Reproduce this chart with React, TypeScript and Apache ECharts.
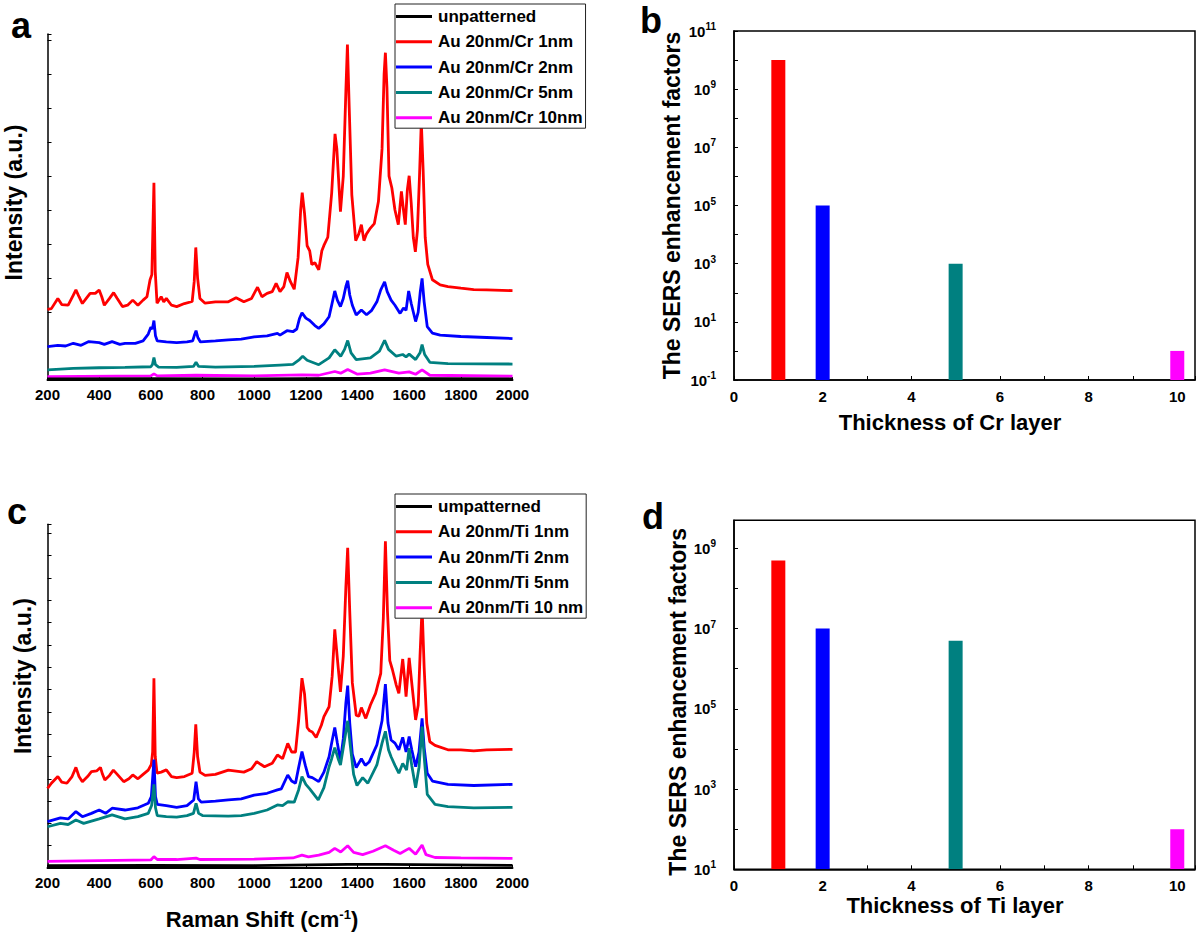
import React, { useEffect, useRef } from "react";
import * as echarts from "echarts";

const FONT = "'Liberation Sans', Arial, Helvetica, sans-serif";

// ---------- Panel a (Cr) spectra: [Raman shift cm-1, intensity a.u.] ----------
const crNames = ["unpatterned", "Au 20nm/Cr 1nm", "Au 20nm/Cr 2nm", "Au 20nm/Cr 5nm", "Au 20nm/Cr 10nm"];
const lineColors = ["#000000", "#ff0000", "#0000ff", "#008080", "#ff00ff"];

const aBlack = [[200,0.03],[600,0.04],[1000,0.03],[1360,0.05],[1500,0.05],[2000,0.03]];
const aRed = [[200,2.08],[215,2.1],[240,2.40],[255,2.22],[280,2.2],[300,2.5],[310,2.65],[322,2.45],[335,2.25],[350,2.4],[365,2.55],[385,2.55],[400,2.65],[410,2.45],[420,2.2],[440,2.4],[456,2.57],[470,2.4],[490,2.16],[510,2.2],[530,2.35],[550,2.2],[570,2.35],[585,2.45],[597,2.95],[604,3.1],[612,5.80],[617,3.2],[624,2.26],[640,2.45],[650,2.3],[660,2.4],[680,2.2],[700,2.16],[730,2.25],[760,2.31],[768,2.9],[774,3.90],[781,3.0],[790,2.4],[810,2.26],[850,2.3],[900,2.3],[930,2.42],[960,2.3],[990,2.4],[1013,2.73],[1030,2.45],[1050,2.55],[1070,2.6],[1085,2.84],[1100,2.6],[1115,2.75],[1127,3.16],[1140,2.9],[1155,2.67],[1170,3.6],[1180,5.0],[1186,5.51],[1195,4.9],[1205,3.95],[1215,3.8],[1223,3.4],[1235,3.45],[1250,3.24],[1262,3.8],[1270,3.96],[1285,4.2],[1300,5.5],[1313,7.24],[1320,6.8],[1334,4.95],[1345,6.0],[1355,8.5],[1361,9.87],[1368,8.0],[1378,5.45],[1393,4.1],[1405,4.3],[1415,4.57],[1425,4.1],[1435,4.3],[1450,4.47],[1465,4.6],[1481,5.25],[1495,6.8],[1503,9.0],[1508,9.63],[1514,8.6],[1522,6.0],[1533,5.65],[1545,5.0],[1558,4.57],[1570,5.55],[1578,5.0],[1585,4.57],[1593,5.6],[1600,6.01],[1608,5.2],[1616,4.2],[1624,3.77],[1632,4.4],[1640,6.0],[1647,7.60],[1654,6.2],[1662,4.2],[1672,3.4],[1690,2.95],[1720,2.8],[1750,2.75],[1800,2.7],[1850,2.66],[1900,2.65],[2000,2.63]];
const aBlue = [[200,0.98],[240,1.02],[270,1.0],[300,1.08],[330,1.02],[360,1.13],[400,1.1],[420,1.05],[450,1.13],[480,1.05],[500,1.08],[540,1.08],[570,1.15],[590,1.35],[600,1.55],[606,1.5],[612,1.75],[618,1.3],[625,1.15],[660,1.12],[700,1.1],[740,1.12],[762,1.15],[768,1.3],[775,1.45],[782,1.25],[792,1.12],[850,1.15],[900,1.18],[950,1.2],[1000,1.27],[1050,1.3],[1090,1.37],[1100,1.32],[1127,1.45],[1150,1.42],[1165,1.5],[1175,1.8],[1185,1.98],[1200,1.82],[1215,1.75],[1235,1.6],[1250,1.52],[1270,1.65],[1290,1.86],[1300,2.2],[1312,2.62],[1322,2.35],[1334,2.16],[1345,2.4],[1355,2.75],[1362,2.92],[1370,2.5],[1380,2.2],[1395,1.91],[1415,2.06],[1435,1.92],[1455,2.05],[1475,2.3],[1490,2.65],[1505,2.89],[1515,2.6],[1530,2.35],[1545,2.2],[1565,1.96],[1578,2.12],[1588,2.05],[1598,2.62],[1608,2.25],[1625,1.72],[1635,2.0],[1643,2.6],[1650,2.99],[1658,2.3],[1670,1.57],[1690,1.38],[1720,1.32],[1800,1.28],[1900,1.25],[2000,1.22]];
const aTeal = [[200,0.30],[300,0.34],[400,0.36],[500,0.37],[600,0.39],[606,0.45],[612,0.66],[618,0.45],[630,0.38],[700,0.37],[765,0.4],[775,0.52],[785,0.4],[850,0.38],[1000,0.4],[1100,0.44],[1150,0.46],[1175,0.6],[1188,0.70],[1205,0.58],[1250,0.45],[1290,0.65],[1312,0.89],[1335,0.7],[1350,0.9],[1362,1.16],[1375,0.8],[1395,0.6],[1450,0.65],[1485,0.85],[1505,1.17],[1520,0.9],[1550,0.7],[1575,0.75],[1588,0.68],[1600,0.76],[1625,0.6],[1642,0.8],[1650,1.04],[1660,0.75],[1680,0.52],[1750,0.48],[2000,0.47]];
const aMagenta = [[200,0.10],[600,0.12],[612,0.18],[625,0.12],[775,0.14],[1000,0.12],[1185,0.15],[1250,0.14],[1312,0.25],[1335,0.2],[1362,0.31],[1400,0.17],[1450,0.2],[1505,0.30],[1560,0.2],[1600,0.24],[1625,0.17],[1650,0.30],[1680,0.14],[2000,0.11]];

// ---------- Panel c (Ti) spectra ----------
const tiNames = ["umpatterned", "Au 20nm/Ti 1nm", "Au 20nm/Ti 2nm", "Au 20nm/Ti 5nm", "Au 20nm/Ti 10 nm"];

const cBlack = [[200,0.1],[600,0.12],[1000,0.11],[1362,0.16],[1508,0.16],[2000,0.12]];
const cRed = [[200,3.57],[215,3.8],[240,4.10],[255,3.85],[275,3.8],[295,4.1],[310,4.51],[322,4.1],[335,3.87],[355,4.1],[370,4.32],[390,4.35],[405,4.51],[413,4.2],[422,3.95],[440,4.15],[455,4.39],[470,4.2],[495,3.87],[515,4.0],[530,4.17],[550,4.0],[570,4.2],[590,4.39],[602,4.65],[607,5.2],[612,8.51],[617,5.0],[624,4.25],[640,4.3],[660,4.4],[680,4.1],[700,4.05],[730,4.1],[760,4.25],[768,5.2],[774,6.44],[781,5.0],[790,4.3],[810,4.15],[850,4.2],[900,4.39],[960,4.3],[990,4.45],[1010,4.77],[1025,4.65],[1040,4.54],[1070,4.7],[1090,5.07],[1110,4.9],[1130,5.59],[1145,5.2],[1160,5.2],[1172,6.6],[1185,8.51],[1195,7.8],[1205,6.3],[1215,6.15],[1225,6.1],[1240,5.85],[1260,6.4],[1270,6.79],[1290,7.23],[1302,8.6],[1312,10.70],[1322,9.4],[1334,7.9],[1345,9.5],[1355,12.6],[1362,14.36],[1370,11.5],[1380,8.3],[1395,6.85],[1405,6.8],[1415,7.19],[1425,6.9],[1432,6.71],[1450,7.31],[1470,7.83],[1490,8.73],[1500,11.2],[1508,14.65],[1516,11.5],[1525,9.3],[1535,8.9],[1550,8.2],[1560,7.83],[1575,9.37],[1583,8.4],[1588,7.68],[1600,9.42],[1610,8.3],[1625,6.64],[1635,7.3],[1642,9.5],[1650,11.7],[1658,9.0],[1668,6.5],[1680,5.66],[1700,5.5],[1750,5.3],[1800,5.3],[1850,5.25],[1900,5.3],[2000,5.32]];
const cBlue = [[200,2.08],[250,2.25],[280,2.2],[310,2.53],[335,2.30],[370,2.45],[400,2.6],[425,2.45],[450,2.68],[500,2.6],[550,2.7],[590,2.9],[602,3.2],[612,4.86],[618,3.2],[625,2.85],[660,2.8],[700,2.72],[740,2.8],[766,3.05],[775,3.87],[784,3.1],[795,2.95],[850,3.0],[900,3.05],[950,3.1],[1000,3.27],[1050,3.35],[1090,3.5],[1105,3.55],[1130,4.17],[1145,3.9],[1160,3.8],[1172,4.5],[1185,5.22],[1198,4.6],[1210,4.1],[1225,4.05],[1250,3.87],[1270,4.3],[1290,4.99],[1300,5.6],[1312,6.30],[1322,5.6],[1334,4.8],[1345,5.8],[1355,7.4],[1362,8.18],[1370,6.5],[1380,5.1],[1395,4.5],[1415,4.9],[1430,4.6],[1445,4.75],[1475,5.52],[1495,6.6],[1508,8.24],[1518,6.5],[1530,5.74],[1545,5.6],[1560,5.3],[1575,5.86],[1588,5.2],[1600,5.89],[1610,5.3],[1625,4.54],[1638,5.2],[1650,6.71],[1658,5.4],[1670,4.25],[1690,3.9],[1750,3.75],[1850,3.7],[2000,3.75]];
const cTeal = [[200,1.85],[250,2.0],[280,1.95],[310,2.15],[340,2.0],[400,2.2],[450,2.38],[500,2.2],[550,2.3],[590,2.45],[603,2.8],[612,3.75],[618,2.7],[625,2.35],[660,2.3],[700,2.28],[740,2.35],[765,2.45],[775,2.9],[785,2.45],[800,2.35],[900,2.33],[950,2.35],[1000,2.45],[1050,2.6],[1090,2.83],[1110,2.8],[1130,2.97],[1155,2.95],[1172,3.5],[1185,4.10],[1200,3.75],[1215,3.55],[1248,3.05],[1270,3.6],[1290,4.54],[1300,4.9],[1312,5.40],[1325,4.9],[1334,4.62],[1348,5.6],[1362,6.6],[1372,5.5],[1385,4.2],[1398,3.7],[1420,4.05],[1440,3.8],[1475,4.62],[1495,5.6],[1508,6.13],[1520,5.3],[1530,4.99],[1545,4.6],[1560,4.25],[1575,4.69],[1590,4.39],[1600,5.37],[1610,4.6],[1625,3.6],[1638,4.5],[1650,6.34],[1658,5.0],[1670,3.3],[1700,2.85],[1750,2.75],[1850,2.7],[2000,2.72]];
const cMagenta = [[200,0.30],[400,0.33],[600,0.36],[612,0.51],[625,0.38],[700,0.38],[775,0.44],[790,0.38],[1000,0.4],[1150,0.45],[1185,0.58],[1210,0.5],[1250,0.58],[1290,0.7],[1312,0.88],[1335,0.72],[1362,1.0],[1385,0.7],[1420,0.6],[1460,0.75],[1508,1.0],[1540,0.8],[1565,0.65],[1600,0.88],[1625,0.62],[1650,1.03],[1665,0.6],[1700,0.47],[1800,0.45],[2000,0.43]];

// ---------- Panels b, d: enhancement factors ----------
const thickness = [1, 2, 5, 10];
const efCr = [1e10, 1e5, 1e3, 1];
const efTi = [5e8, 1e7, 5e6, 100];
const barColors = ["#ff0000", "#0000ff", "#008080", "#ff00ff"];

const bYMin = 0.1, bYMax = 1e11;
const dYMin = 10, dYMax = 5e9;

const tickLabel = { fontSize: 15, fontWeight: "bold", color: "#000", fontFamily: FONT };
const axisLineBlack = { show: true, lineStyle: { color: "#000", width: 1.5 } };

function spectraAxes(gridIndex: number, yMax: number, showXName: boolean, yGap: number, yPad: number) {
  const x: any = {
    type: "value", gridIndex, min: 200, max: 2000, interval: 200,
    axisLine: { show: true, onZero: false, lineStyle: { color: "#000", width: 2 } },
    axisTick: { show: true, inside: true, length: 3, lineStyle: { color: "#000" } },
    axisLabel: { ...tickLabel, margin: 7, formatter: (v: number) => String(v) },
    splitLine: { show: false },
  };
  if (showXName) {
    x.name = "Raman Shift (cm{s|-1})";
    x.nameLocation = "middle";
    x.nameGap = 40;
    x.nameTextStyle = {
      fontSize: 22, fontWeight: "bold", color: "#000", fontFamily: FONT, padding: [0, 36, 0, 0],
      rich: { s: { fontSize: 13, fontWeight: "bold", color: "#000", fontFamily: FONT, verticalAlign: "top", padding: [0, 0, 10, 0] } },
    };
  }
  const y = {
    type: "value", gridIndex, min: 0, max: yMax, interval: 1,
    axisLine: axisLineBlack,
    axisTick: { show: true, inside: true, length: 4, lineStyle: { color: "#000" } },
    axisLabel: { show: false },
    splitLine: { show: false },
    name: "Intensity (a.u.)", nameLocation: "middle", nameGap: yGap,
    nameTextStyle: { fontSize: 23, fontWeight: "bold", color: "#000", fontFamily: FONT, padding: [0, 0, 0, yPad] },
  };
  return { x, y };
}

function efAxes(gridIndex: number, yMin: number, yMax: number, xName: string, xGap: number, xPad: number, yGap: number, yPad: number) {
  const x = {
    type: "value", gridIndex, min: 0, max: 10.4, interval: 1,
    axisLine: axisLineBlack,
    axisTick: { show: true, inside: true, length: 4, lineStyle: { color: "#000" } },
    axisLabel: { ...tickLabel, margin: 9, formatter: (v: number) => (v % 2 === 0 ? String(v) : "") },
    splitLine: { show: false },
    name: xName, nameLocation: "middle", nameGap: xGap,
    nameTextStyle: { fontSize: 22, fontWeight: "bold", color: "#000", fontFamily: FONT, padding: [0, xPad, 0, 0] },
  };
  const y = {
    type: "log", logBase: 10, gridIndex, min: yMin, max: yMax, interval: 1, splitNumber: 12,
    axisLine: axisLineBlack,
    axisTick: { show: true, inside: true, length: 4, interval: 0, lineStyle: { color: "#000" } },
    axisLabel: {
      ...tickLabel, margin: 18,
      formatter: (v: number) => {
        const e = Math.log10(v);
        const r = Math.round(e);
        if (Math.abs(e - r) > 0.01) return "";
        if (Math.abs(r) % 2 !== 1) return "";
        return "10{s|" + r + "}";
      },
      rich: { s: { fontSize: 10, fontWeight: "bold", color: "#000", fontFamily: FONT, verticalAlign: "top", padding: [0, 0, 9, 0] } },
    },
    splitLine: { show: false },
    name: "The SERS enhancement factors", nameLocation: "middle", nameGap: yGap,
    nameTextStyle: { fontSize: 23, fontWeight: "bold", color: "#000", fontFamily: FONT, padding: [0, yPad, 0, 0] },
  };
  return { x, y };
}

function lineSeries(name: string, data: number[][], color: string, axisIndex: number) {
  return {
    type: "line", name, data, xAxisIndex: axisIndex, yAxisIndex: axisIndex,
    symbol: "none", showSymbol: false, smooth: false,
    lineStyle: { color, width: 2.8 }, itemStyle: { color }, z: 3,
  };
}

function barSeries(values: number[], axisIndex: number, yMin: number) {
  return {
    type: "custom", xAxisIndex: axisIndex, yAxisIndex: axisIndex,
    data: thickness.map((t, i) => [t, values[i]]),
    clip: true,
    renderItem: (params: any, api: any) => {
      const top = api.coord([api.value(0), api.value(1)]);
      const base = api.coord([api.value(0), yMin]);
      return {
        type: "rect",
        shape: { x: top[0] - 7, y: top[1], width: 14, height: base[1] - top[1] },
        style: { fill: barColors[params.dataIndex] },
      };
    },
  };
}

function legendFor(names: string[], top: number) {
  return {
    data: names.map((n) => ({ name: n, icon: "rect" })),
    orient: "vertical", left: 395, top,
    itemWidth: 36, itemHeight: 3, itemGap: 8.3,
    padding: [4, 3, 2, 1],
    borderColor: "#222", borderWidth: 1, backgroundColor: "#fff",
    selectedMode: false,
    textStyle: { fontSize: 17, fontWeight: "bold", color: "#000", fontFamily: FONT, lineHeight: 14, padding: [0, 0, 0, 1] },
  };
}

export default function App() {
  const ref = useRef<HTMLDivElement>(null);
  useEffect(() => {
    if (!ref.current) return;
    const chart = echarts.init(ref.current, undefined, { renderer: "svg" });
    const A = spectraAxes(0, 10.18, false, 22, 9);
    const B = efAxes(1, bYMin, bYMax, "Thickness of Cr layer", 31, 29, 51, 0);
    const C = spectraAxes(2, 15.41, true, 13, 40);
    const D = efAxes(3, dYMin, dYMax, "Thickness of Ti layer", 24, 19, 42, 14);

    const aData = [aBlack, aRed, aBlue, aTeal, aMagenta];
    const cData = [cBlack, cRed, cBlue, cTeal, cMagenta];
    // draw order: black last so it sits on the baseline
    const order = [1, 2, 3, 4, 0];

    const option: any = {
      animation: false,
      backgroundColor: "#fff",
      textStyle: { fontFamily: FONT },
      grid: [
        { left: 47.5, top: 34, width: 465, height: 346, containLabel: false, outerBoundsMode: "none" },
        { left: 734, top: 31, width: 461, height: 349, show: true, borderColor: "#000", borderWidth: 1.5, backgroundColor: "transparent", containLabel: false, outerBoundsMode: "none" },
        { left: 47.5, top: 524.3, width: 465, height: 343.7, containLabel: false, outerBoundsMode: "none" },
        { left: 734, top: 520.3, width: 461, height: 349, show: true, borderColor: "#000", borderWidth: 1.5, backgroundColor: "transparent", containLabel: false, outerBoundsMode: "none" },
      ],
      xAxis: [A.x, B.x, C.x, D.x],
      yAxis: [A.y, B.y, C.y, D.y],
      legend: [legendFor(crNames, 4), legendFor(tiNames, 494)],
      series: [
        ...order.map((i) => lineSeries(crNames[i], aData[i], lineColors[i], 0)),
        barSeries(efCr, 1, bYMin),
        ...order.map((i) => lineSeries(tiNames[i], cData[i], lineColors[i], 2)),
        barSeries(efTi, 3, dYMin),
      ],
      graphic: [
        { type: "text", x: 11, y: 7, style: { text: "a", font: "bold 36px " + FONT, fill: "#000" } },
        { type: "text", x: 640, y: 2, style: { text: "b", font: "bold 36px " + FONT, fill: "#000" } },
        { type: "text", x: 7, y: 493, style: { text: "c", font: "bold 36px " + FONT, fill: "#000" } },
        { type: "text", x: 642, y: 498, style: { text: "d", font: "bold 36px " + FONT, fill: "#000" } },
      ],
    };
    chart.setOption(option);
    return () => chart.dispose();
  }, []);
  return <div ref={ref} style={{ position: "absolute", left: 0, top: 0, width: 1200, height: 933, background: "#fff" }} />;
}
